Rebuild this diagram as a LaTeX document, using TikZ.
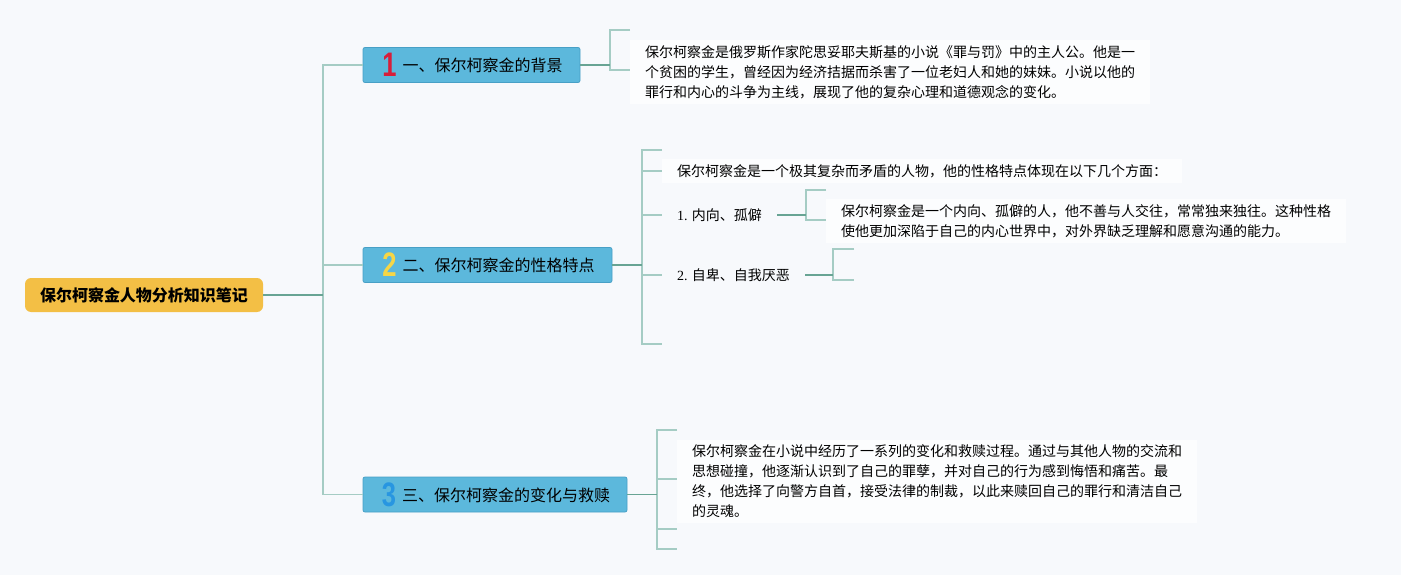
\documentclass[tikz,border=0pt]{standalone}
\usepackage{fontspec}
\setmainfont{Noto Sans CJK SC}
\newfontfamily\numfont{Liberation Sans}
\newfontfamily\serfont{Liberation Serif}
\definecolor{bgc}{RGB}{247,249,252}
\definecolor{leafc}{RGB}{252,253,254}
\definecolor{rootc}{RGB}{243,191,69}
\definecolor{boxc}{RGB}{92,184,220}
\definecolor{boxd}{RGB}{72,160,198}
\definecolor{lined}{RGB}{104,164,148}
\definecolor{linel}{RGB}{165,204,196}
\definecolor{numred}{RGB}{216,30,58}
\definecolor{numyel}{RGB}{246,214,70}
\definecolor{numblu}{RGB}{40,150,225}
\begin{document}
\begin{tikzpicture}[x=1pt,y=-1pt,
  rootbox/.style={fill=rootc, rounded corners=6pt, minimum width=238pt, minimum height=34pt, inner sep=0pt, font=\fontsize{16}{16}\selectfont\bfseries},
  branchbox/.style={fill=boxc, draw=boxd, line width=0.8pt, rounded corners=2pt, minimum height=35pt, inner sep=0pt, font=\fontsize{16}{16}\selectfont},
  leaf/.style={fill=leafc, inner xsep=15pt, inner ysep=5pt, align=left, anchor=west, font=\fontsize{14}{20}\selectfont},
  darkline/.style={draw=lined, line width=1.6pt},
  lightline/.style={draw=linel, line width=1.4pt}]
\newcommand{\bignum}[2]{\raisebox{-5pt}{\makebox[18pt][c]{\scalebox{0.75}[1]{\numfont\bfseries\fontsize{34}{34}\selectfont\color{#1}#2}}}\hspace{4pt}}
\useasboundingbox (0,0) rectangle (1401,575);
\fill[bgc] (0,0) rectangle (1401,575);
% nodes
\node[rootbox] (root) at (144,295) {保尔柯察金人物分析知识笔记};
\node[branchbox, minimum width=217pt] (b1) at (471.5,65) {\bignum{numred}{1}一、保尔柯察金的背景};
\node[branchbox, minimum width=249pt] (b2) at (487.5,265) {\bignum{numyel}{2}二、保尔柯察金的性格特点};
\node[branchbox, minimum width=264pt] (b3) at (495,494.5) {\bignum{numblu}{3}三、保尔柯察金的变化与救赎};
\node[leaf] (t1) at (630,72) {保尔柯察金是俄罗斯作家陀思妥耶夫斯基的小说《罪与罚》中的主人公。他是一\\个贫困的学生，曾经因为经济拮据而杀害了一位老妇人和她的妹妹。小说以他的\\罪行和内心的斗争为主线，展现了他的复杂心理和道德观念的变化。};
\node[leaf] (t2a) at (662,171) {保尔柯察金是一个极其复杂而矛盾的人物，他的性格特点体现在以下几个方面：};
\node[leaf, fill=none] (t2b) at (662,215) {{\serfont 1.} 内向、孤僻};
\node[leaf] (t2b1) at (826,221) {保尔柯察金是一个内向、孤僻的人，他不善与人交往，常常独来独往。这种性格\\使他更加深陷于自己的内心世界中，对外界缺乏理解和愿意沟通的能力。};
\node[leaf, fill=none] (t2c) at (662,275) {{\serfont 2.} 自卑、自我厌恶};
\node[leaf] (t3) at (677,481.5) {保尔柯察金在小说中经历了一系列的变化和救赎过程。通过与其他人物的交流和\\思想碰撞，他逐渐认识到了自己的罪孽，并对自己的行为感到悔悟和痛苦。最\\终，他选择了向警方自首，接受法律的制裁，以此来赎回自己的罪行和清洁自己\\的灵魂。};
% coordinates
\coordinate (tk) at (323,295);
\coordinate (k1) at (610,65);
\coordinate (k2) at (642,265);
\coordinate (k2b) at (806,215);
\coordinate (k2c) at (833,275);
\coordinate (k3) at (657,494.5);
\coordinate (e1a) at (630,30);
\coordinate (e1b) at (630,70);
\coordinate (e2a) at (662,150);
\coordinate (e2e) at (662,344);
\coordinate (e2bt) at (826,190);
\coordinate (e2bb) at (826,220);
\coordinate (e2ct) at (854,249);
\coordinate (e2cb) at (854,280);
\coordinate (e3a) at (677,430);
\coordinate (e3b) at (677,479);
\coordinate (e3c) at (677,529);
\coordinate (e3d) at (677,549);
% trunk
\draw[lightline] (tk) |- (b1.west);
\draw[lightline] (tk) |- (b2.west);
\draw[lightline] (tk) |- (b3.west);
\draw[darkline] (root.east) -- (tk);
% branch 1
\draw[lightline] (e1a) -| (k1) |- (e1b);
\draw[darkline] (b1.east) -- (k1);
% branch 2
\draw[lightline] (e2a) -| (k2) |- (e2e);
\draw[lightline] (k2 |- t2a.west) -- (t2a.west);
\draw[lightline] (k2 |- t2b.west) -- (t2b.west);
\draw[lightline] (k2 |- t2c.west) -- (t2c.west);
\draw[darkline] (b2.east) -- (k2);
\draw[lightline] (e2bt) -| (k2b) |- (e2bb);
\draw[darkline] (t2b.east) -- (k2b);
\draw[lightline] (e2ct) -| (k2c) |- (e2cb);
\draw[darkline] (t2c.east) -- (k2c);
% branch 3
\draw[lightline] (e3a) -| (k3) |- (e3d);
\draw[lightline] (k3 |- e3b) -- (e3b);
\draw[lightline] (k3 |- e3c) -- (e3c);
\draw[darkline] (b3.east) -- (k3);
\end{tikzpicture}
\end{document}
